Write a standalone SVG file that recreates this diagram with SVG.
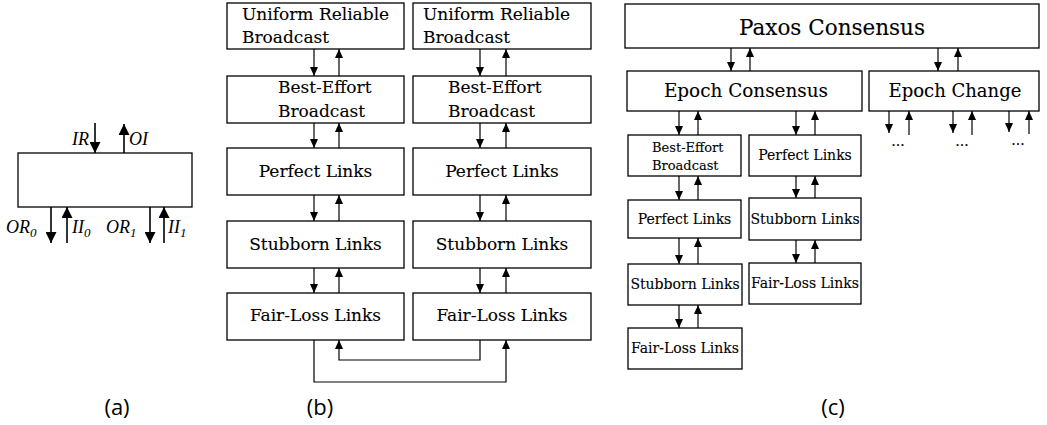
<svg xmlns="http://www.w3.org/2000/svg" width="1047" height="425" viewBox="0 0 1047 425">
<style>
.box{fill:#fff;stroke:#000;stroke-width:1.3}
.ln{fill:none;stroke:#000;stroke-width:1.2}
.lnA{fill:none;stroke:#000;stroke-width:1.6}
.t{font-family:"DejaVu Serif","Liberation Serif",serif;fill:#000;stroke:#000;stroke-width:0.1}
.tb{font-size:17px}
.tc{font-size:14px}
.it{font-family:"Liberation Serif","DejaVu Serif",serif;font-style:italic;font-size:18px;fill:#000}
.cap{font-family:"Open Sans","DejaVu Sans",sans-serif;font-size:22px;fill:#000;text-anchor:middle}
.mid{text-anchor:middle}
</style>
<defs>
<marker id="ah" markerUnits="userSpaceOnUse" viewBox="0 0 9 8" refX="9" refY="4" markerWidth="9" markerHeight="8" orient="auto"><path d="M0,0 L9,4 L0,8 z" fill="#000"/></marker>
<marker id="ahA" markerUnits="userSpaceOnUse" viewBox="0 0 11 11" refX="11" refY="5.5" markerWidth="11" markerHeight="11" orient="auto"><path d="M0,0 L11,5.5 L0,11 z" fill="#000"/></marker>
</defs>

<!-- (a) -->
<g id="a-module">
<rect class="box" x="18" y="153" width="174" height="54"/>
</g>
<g id="a-connectors">
<line class="lnA" x1="95" y1="123" x2="95" y2="153" marker-end="url(#ahA)"/>
<line class="lnA" x1="124" y1="153" x2="124" y2="124" marker-end="url(#ahA)"/>
<line class="lnA" x1="51" y1="207" x2="51" y2="243" marker-end="url(#ahA)"/>
<line class="lnA" x1="67" y1="243" x2="67" y2="207" marker-end="url(#ahA)"/>
<line class="lnA" x1="150" y1="207" x2="150" y2="243" marker-end="url(#ahA)"/>
<line class="lnA" x1="164" y1="243" x2="164" y2="207" marker-end="url(#ahA)"/>
</g>
<g id="a-labels">
<text class="it" x="89" y="145" text-anchor="end">IR</text>
<text class="it" x="129" y="145">OI</text>
<text class="it" x="6" y="233">OR<tspan font-size="13" dy="4">0</tspan></text>
<text class="it" x="72" y="233">II<tspan font-size="13" dy="4">0</tspan></text>
<text class="it" x="106" y="233">OR<tspan font-size="13" dy="4">1</tspan></text>
<text class="it" x="168" y="233">II<tspan font-size="13" dy="4">1</tspan></text>
</g>
<text class="cap" x="117" y="415">(a)</text>

<!-- (b) left stack -->
<g id="b-urb-l"><rect class="box" x="227" y="3" width="177" height="46"/>
<text class="t tb" x="242" y="20">Uniform Reliable</text><text class="t tb" x="242" y="43">Broadcast</text></g>
<g id="b-beb-l"><rect class="box" x="227" y="76" width="177" height="47"/>
<text class="t tb" x="278" y="93">Best-Effort</text><text class="t tb" x="278" y="117">Broadcast</text></g>
<g id="b-pl-l"><rect class="box" x="227" y="148" width="177" height="47"/>
<text class="t tb mid" x="315.5" y="177">Perfect Links</text></g>
<g id="b-sl-l"><rect class="box" x="227" y="221" width="177" height="47"/>
<text class="t tb mid" x="315.5" y="250">Stubborn Links</text></g>
<g id="b-fll-l"><rect class="box" x="227" y="293" width="177" height="47"/>
<text class="t tb mid" x="315.5" y="321">Fair-Loss Links</text></g>

<!-- (b) right stack -->
<g id="b-urb-r"><rect class="box" x="413" y="3" width="178" height="46"/>
<text class="t tb" x="423" y="20">Uniform Reliable</text><text class="t tb" x="423" y="43">Broadcast</text></g>
<g id="b-beb-r"><rect class="box" x="413" y="76" width="178" height="47"/>
<text class="t tb" x="448" y="93">Best-Effort</text><text class="t tb" x="448" y="117">Broadcast</text></g>
<g id="b-pl-r"><rect class="box" x="413" y="148" width="178" height="47"/>
<text class="t tb mid" x="502" y="177">Perfect Links</text></g>
<g id="b-sl-r"><rect class="box" x="413" y="221" width="178" height="47"/>
<text class="t tb mid" x="502" y="250">Stubborn Links</text></g>
<g id="b-fll-r"><rect class="box" x="413" y="293" width="178" height="47"/>
<text class="t tb mid" x="502" y="321">Fair-Loss Links</text></g>

<g id="b-connectors">
<line class="ln" x1="314" y1="49" x2="314" y2="76" marker-end="url(#ah)"/>
<line class="ln" x1="339" y1="76" x2="339" y2="49" marker-end="url(#ah)"/>
<line class="ln" x1="314" y1="123" x2="314" y2="148" marker-end="url(#ah)"/>
<line class="ln" x1="339" y1="148" x2="339" y2="123" marker-end="url(#ah)"/>
<line class="ln" x1="314" y1="195" x2="314" y2="221" marker-end="url(#ah)"/>
<line class="ln" x1="339" y1="221" x2="339" y2="195" marker-end="url(#ah)"/>
<line class="ln" x1="314" y1="268" x2="314" y2="293" marker-end="url(#ah)"/>
<line class="ln" x1="339" y1="293" x2="339" y2="268" marker-end="url(#ah)"/>
<line class="ln" x1="480" y1="49" x2="480" y2="76" marker-end="url(#ah)"/>
<line class="ln" x1="506" y1="76" x2="506" y2="49" marker-end="url(#ah)"/>
<line class="ln" x1="480" y1="123" x2="480" y2="148" marker-end="url(#ah)"/>
<line class="ln" x1="506" y1="148" x2="506" y2="123" marker-end="url(#ah)"/>
<line class="ln" x1="480" y1="195" x2="480" y2="221" marker-end="url(#ah)"/>
<line class="ln" x1="506" y1="221" x2="506" y2="195" marker-end="url(#ah)"/>
<line class="ln" x1="480" y1="268" x2="480" y2="293" marker-end="url(#ah)"/>
<line class="ln" x1="506" y1="293" x2="506" y2="268" marker-end="url(#ah)"/>
<path class="ln" d="M314,340 V382 H506 V340" marker-end="url(#ah)"/>
<path class="ln" d="M480,340 V360 H339 V340" marker-end="url(#ah)"/>
</g>
<text class="cap" x="320" y="415">(b)</text>

<!-- (c) -->
<g id="c-paxos"><rect class="box" x="625" y="4" width="414" height="44"/>
<text class="t mid" x="832" y="35" font-size="21.5">Paxos Consensus</text></g>
<g id="c-ec"><rect class="box" x="627" y="71" width="235" height="40"/>
<text class="t mid" x="746" y="97" font-size="18.4">Epoch Consensus</text></g>
<g id="c-ech"><rect class="box" x="869" y="71" width="170" height="40"/>
<text class="t mid" x="955" y="97" font-size="18">Epoch Change</text></g>
<g id="c-beb"><rect class="box" x="628" y="135" width="113" height="41"/>
<text class="t" x="652" y="152" font-size="13">Best-Effort</text><text class="t" x="652" y="170" font-size="13">Broadcast</text></g>
<g id="c-pl1"><rect class="box" x="628" y="200" width="113" height="38"/>
<text class="t tc mid" x="684.5" y="224">Perfect Links</text></g>
<g id="c-sl1"><rect class="box" x="628" y="264" width="114" height="41"/>
<text class="t tc mid" x="685" y="289">Stubborn Links</text></g>
<g id="c-fll1"><rect class="box" x="628" y="328" width="114" height="41"/>
<text class="t tc mid" x="685" y="353">Fair-Loss Links</text></g>
<g id="c-pl2"><rect class="box" x="749" y="135" width="112" height="41"/>
<text class="t tc mid" x="805" y="160">Perfect Links</text></g>
<g id="c-sl2"><rect class="box" x="749" y="198" width="112" height="42"/>
<text class="t tc mid" x="805" y="224">Stubborn Links</text></g>
<g id="c-fll2"><rect class="box" x="749" y="263" width="112" height="41"/>
<text class="t tc mid" x="805" y="288">Fair-Loss Links</text></g>

<g id="c-connectors">
<line class="ln" x1="731" y1="48" x2="731" y2="71" marker-end="url(#ah)"/>
<line class="ln" x1="750" y1="71" x2="750" y2="48" marker-end="url(#ah)"/>
<line class="ln" x1="938" y1="48" x2="938" y2="71" marker-end="url(#ah)"/>
<line class="ln" x1="958" y1="71" x2="958" y2="48" marker-end="url(#ah)"/>
<line class="ln" x1="679" y1="111" x2="679" y2="135" marker-end="url(#ah)"/>
<line class="ln" x1="698" y1="135" x2="698" y2="111" marker-end="url(#ah)"/>
<line class="ln" x1="796" y1="111" x2="796" y2="135" marker-end="url(#ah)"/>
<line class="ln" x1="815" y1="135" x2="815" y2="111" marker-end="url(#ah)"/>
<line class="ln" x1="889" y1="111" x2="889" y2="133" marker-end="url(#ah)"/>
<line class="ln" x1="909" y1="135" x2="909" y2="111" marker-end="url(#ah)"/>
<line class="ln" x1="953" y1="111" x2="953" y2="133" marker-end="url(#ah)"/>
<line class="ln" x1="972" y1="135" x2="972" y2="111" marker-end="url(#ah)"/>
<line class="ln" x1="1009" y1="111" x2="1009" y2="132" marker-end="url(#ah)"/>
<line class="ln" x1="1029" y1="134" x2="1029" y2="111" marker-end="url(#ah)"/>
<line class="ln" x1="679" y1="176" x2="679" y2="200" marker-end="url(#ah)"/>
<line class="ln" x1="698" y1="200" x2="698" y2="176" marker-end="url(#ah)"/>
<line class="ln" x1="679" y1="238" x2="679" y2="264" marker-end="url(#ah)"/>
<line class="ln" x1="698" y1="264" x2="698" y2="238" marker-end="url(#ah)"/>
<line class="ln" x1="679" y1="305" x2="679" y2="328" marker-end="url(#ah)"/>
<line class="ln" x1="698" y1="328" x2="698" y2="305" marker-end="url(#ah)"/>
<line class="ln" x1="796" y1="176" x2="796" y2="198" marker-end="url(#ah)"/>
<line class="ln" x1="815" y1="198" x2="815" y2="176" marker-end="url(#ah)"/>
<line class="ln" x1="796" y1="240" x2="796" y2="263" marker-end="url(#ah)"/>
<line class="ln" x1="815" y1="263" x2="815" y2="240" marker-end="url(#ah)"/>
</g>
<g id="c-dots">
<text class="t tc mid" x="898" y="146">...</text>
<text class="t tc mid" x="962" y="146">...</text>
<text class="t tc mid" x="1018" y="145">...</text>
</g>
<text class="cap" x="833" y="415">(c)</text>
</svg>
